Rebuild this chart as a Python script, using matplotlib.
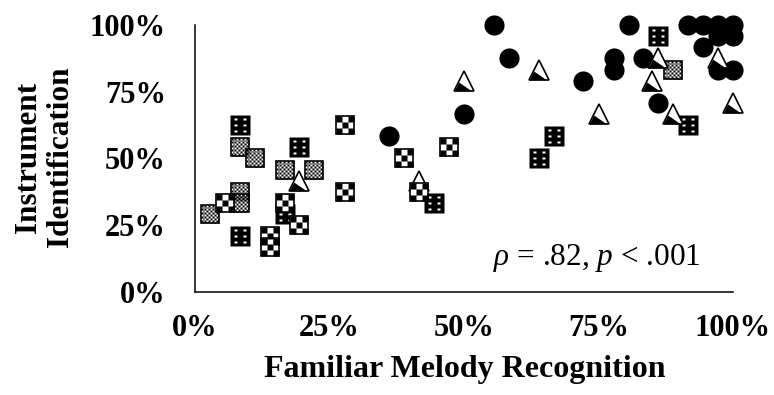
import numpy as np
import matplotlib.pyplot as plt
from matplotlib.path import Path

plt.rcParams['font.family'] = ['Liberation Serif', 'DejaVu Serif']
plt.rcParams['mathtext.fontset'] = 'custom'
plt.rcParams['mathtext.rm'] = 'Liberation Serif'
plt.rcParams['mathtext.it'] = 'Liberation Serif:italic'

# data (percent)
circle_x = [55.6, 58.3, 72.2, 50.0, 36.1, 77.8, 77.8, 80.6, 83.3, 86.1,
            91.7, 94.4, 97.2, 100, 97.2, 100, 94.4, 97.2, 100]
circle_y = [100, 87.5, 79.2, 66.7, 58.3, 87.5, 83.3, 100, 87.5, 70.8,
            100, 100, 100, 100, 95.8, 95.8, 91.7, 83.3, 83.3]

tri_x = [19.4, 41.7, 50.0, 63.9, 75.0, 86.1, 85.0, 88.9, 97.2, 100]
tri_y = [41.7, 41.7, 79.2, 83.3, 66.7, 87.5, 79.2, 66.7, 87.5, 70.8]

dice_x = [8.3, 19.4, 16.7, 8.3, 44.4, 63.9, 66.7, 86.1, 91.7]
dice_y = [62.5, 54.2, 29.2, 20.8, 33.3, 50.0, 58.3, 95.8, 62.5]

fine_x = [8.3, 11.1, 16.7, 22.2, 8.3, 8.3, 2.8, 88.9]
fine_y = [54.2, 50.0, 45.8, 45.8, 37.5, 33.3, 29.2, 83.3]

check_x = [5.6, 16.7, 19.4, 13.9, 13.9, 27.8, 27.8, 47.2, 38.9, 41.7]
check_y = [33.3, 33.3, 25.0, 20.8, 16.7, 62.5, 37.5, 54.2, 50.0, 37.5]

ticks = [0, 25, 50, 75, 100]
tick_labels = ['0%', '25%', '50%', '75%', '100%']


def checker(n):
    # black cells of an n x n checkerboard in [-1, 1]
    s = 2.0 / n
    verts, codes = [], []
    for i in range(n):
        for j in range(n):
            if (i + j) % 2 == 0:
                x0 = -1 + j * s
                y0 = 1 - (i + 1) * s
                verts += [(x0, y0), (x0 + s, y0), (x0 + s, y0 + s), (x0, y0 + s), (x0, y0)]
                codes += [Path.MOVETO, Path.LINETO, Path.LINETO, Path.LINETO, Path.CLOSEPOLY]
    return Path(verts, codes)


def dice():
    # black square with six white holes
    verts = [(-1, -1), (1, -1), (1, 1), (-1, 1), (-1, -1)]
    codes = [Path.MOVETO, Path.LINETO, Path.LINETO, Path.LINETO, Path.CLOSEPOLY]
    h = 0.12
    for cx in (-0.45, 0.45):
        for cy in (-0.6, 0.0, 0.6):
            verts += [(cx - h, cy - h), (cx - h, cy + h), (cx + h, cy + h), (cx + h, cy - h), (cx - h, cy - h)]
            codes += [Path.MOVETO, Path.LINETO, Path.LINETO, Path.LINETO, Path.CLOSEPOLY]
    return Path(verts, codes)


# black lower-left wedge inside the triangle
wedge = Path([(-1, -1), (0.75, -1), (-0.55, -0.1), (-1, -1)],
             [Path.MOVETO, Path.LINETO, Path.LINETO, Path.CLOSEPOLY])

fig = plt.figure(figsize=(7.74, 3.95), dpi=100)
ax = fig.add_axes([195 / 774, 103 / 395, 538 / 774, 267 / 395])

ms = 13.5
mew = 1.2

ax.plot(circle_x, circle_y, ls='none', marker='o', ms=14.5, mfc='black', mec='none',
        clip_on=False, zorder=3)

ax.plot(dice_x, dice_y, ls='none', marker=dice(), ms=ms + mew, mfc='black', mec='none',
        clip_on=False, zorder=4)

ax.plot(fine_x, fine_y, ls='none', marker='s', ms=ms, mfc='white', mec='black', mew=mew,
        clip_on=False, zorder=5)
ax.plot(fine_x, fine_y, ls='none', marker=checker(10), ms=ms, mfc='black', mec='none',
        clip_on=False, zorder=5)

ax.plot(tri_x, tri_y, ls='none', marker='^', ms=14, mfc='white', mec='black', mew=mew,
        clip_on=False, zorder=6)
ax.plot(tri_x, tri_y, ls='none', marker=wedge, ms=14, mfc='black', mec='none',
        clip_on=False, zorder=6)

ax.plot(check_x, check_y, ls='none', marker='s', ms=ms, mfc='white', mec='black', mew=mew,
        clip_on=False, zorder=7)
ax.plot(check_x, check_y, ls='none', marker=checker(3), ms=ms, mfc='black', mec='none',
        clip_on=False, zorder=7)

ax.set_xlim(0, 100)
ax.set_ylim(0, 100)
ax.spines['top'].set_visible(False)
ax.spines['right'].set_visible(False)
ax.spines['left'].set_linewidth(1.1)
ax.spines['bottom'].set_linewidth(1.1)

ax.set_xticks(ticks)
ax.set_xticklabels(tick_labels, fontsize=22, fontweight='bold')
ax.set_yticks(ticks)
ax.set_yticklabels(tick_labels, fontsize=22, fontweight='bold')
ax.tick_params(axis='x', length=0, pad=16)
ax.tick_params(axis='y', length=0, pad=21)

ax.set_xlabel('Familiar Melody Recognition', fontsize=23, fontweight='bold')
ax.xaxis.label.set_va('center')
ax.xaxis.set_label_coords(0.502, -0.292)

ax.set_ylabel('Instrument\nIdentification', fontsize=22.5, fontweight='bold', linespacing=1.12)
ax.yaxis.label.set_va('center')
ax.yaxis.set_label_coords(-0.280, 0.505)

ax.text(0.939, 0.127, r'$\rho$ = .82, $p$ < .001', transform=ax.transAxes,
        ha='right', va='center', fontsize=22.5)

fig.savefig('out.png', dpi=100)
